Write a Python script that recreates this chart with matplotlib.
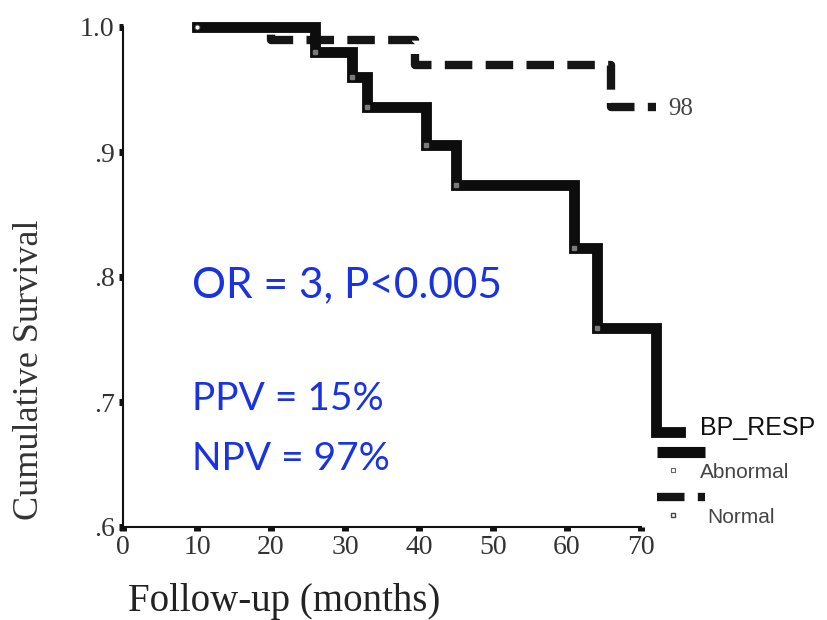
import matplotlib
matplotlib.use('Agg')
import matplotlib.pyplot as plt
from matplotlib.lines import Line2D

# Kaplan-Meier steps
abn_time = [10, 26, 31, 33, 41, 45, 61, 64, 72, 75.3]
abn_surv = [1.0, 0.98, 0.96, 0.936, 0.906, 0.874, 0.823, 0.759, 0.676, 0.676]
norm_time = [10, 20, 39.5, 66, 72]
norm_surv = [1.0, 0.99, 0.97, 0.936, 0.936]
censor_time = [26, 31, 33, 41, 45, 61, 64]
censor_surv = [0.98, 0.96, 0.936, 0.906, 0.874, 0.823, 0.759]

x_ticks = [0, 10, 20, 30, 40, 50, 60, 70]
y_ticks = [0.6, 0.7, 0.8, 0.9, 1.0]
y_tick_labels = ['.6', '.7', '.8', '.9', '1.0']

W, H = 827, 620
fig = plt.figure(figsize=(W / 100, H / 100), dpi=100)
ax = fig.add_axes([123 / W, 93 / H, 592 / W, 500 / H])

ax.step(norm_time, norm_surv, where='post', color='#151515', lw=6,
        dashes=(3.3, 1.6), solid_capstyle='butt', clip_on=False, zorder=3)
ax.step(abn_time, abn_surv, where='post', color='#0d0d0d', lw=7.8,
        solid_joinstyle='miter', clip_on=False, zorder=4)
ax.plot(censor_time, censor_surv, 's', ms=3, color='#7a7a7a', clip_on=False, zorder=5)
ax.plot([10], [1.0], 'o', ms=3.5, mfc='white', mec='#555', mew=0.6, clip_on=False, zorder=5)

ax.set_xlim(0, 80)
ax.set_ylim(0.6, 1.0)
ax.spines['top'].set_visible(False)
ax.spines['right'].set_visible(False)
ax.spines['bottom'].set_bounds(0, 70)
for s in ['left', 'bottom']:
    ax.spines[s].set_linewidth(1.5)
    ax.spines[s].set_color('#111')

ax.set_xticks(x_ticks)
ax.set_yticks(y_ticks)
ax.set_yticklabels(y_tick_labels)
ax.tick_params(axis='both', direction='out', length=3, width=5, color='#111',
               labelsize=20, labelcolor='#333', pad=3)
for lab in ax.get_xticklabels() + ax.get_yticklabels():
    lab.set_fontfamily('Liberation Serif')

fig.text(30 / W, 1 - 370 / H, 'Cumulative Survival', rotation=90, ha='center', va='center',
         fontsize=26, family='Liberation Serif', color='#333')
fig.text(284 / W, 1 - 611 / H, 'Follow-up (months)', ha='center', va='baseline',
         fontsize=28, family='Liberation Serif', color='#222')

# number at risk label
fig.text(668 / W, 1 - 115 / H, '98', ha='left', va='baseline', fontsize=18,
         family='Liberation Serif', color='#444')

# annotation text
blue = '#1a33e0'
fig.text(192 / W, 1 - 297 / H, 'OR = 3, P<0.005', fontsize=30.5, family='Lato', color=blue)
fig.text(192 / W, 1 - 410 / H, 'PPV = 15%', fontsize=28, family='Lato', color=blue)
fig.text(192 / W, 1 - 470 / H, 'NPV = 97%', fontsize=28, family='Lato', color=blue)

# legend drawn SPSS style
fig.text(700 / W, 1 - 435 / H, 'BP_RESP', fontsize=18, family='Liberation Sans', color='#111')
fig.add_artist(Line2D([657 / W, 705 / W], [1 - 452 / H, 1 - 452 / H], lw=8,
                      color='#0d0d0d', solid_capstyle='butt'))
fig.add_artist(Line2D([673 / W], [1 - 470 / H], marker='s', ms=3.5, mfc='white',
                      mec='#666', mew=0.8, ls='none'))
fig.text(700 / W, 1 - 478 / H, 'Abnormal', fontsize=15, family='Liberation Sans', color='#444')
fig.add_artist(Line2D([657 / W, 705 / W], [1 - 497 / H, 1 - 497 / H], lw=6,
                      color='#151515', dashes=(3.3, 1.6), dash_capstyle='butt'))
fig.add_artist(Line2D([673 / W], [1 - 515 / H], marker='s', ms=3.5, mfc='white',
                      mec='#444', mew=1, ls='none'))
fig.text(707 / W, 1 - 523 / H, 'Normal', fontsize=15, family='Liberation Sans', color='#444')

fig.savefig('out.png', dpi=100)
